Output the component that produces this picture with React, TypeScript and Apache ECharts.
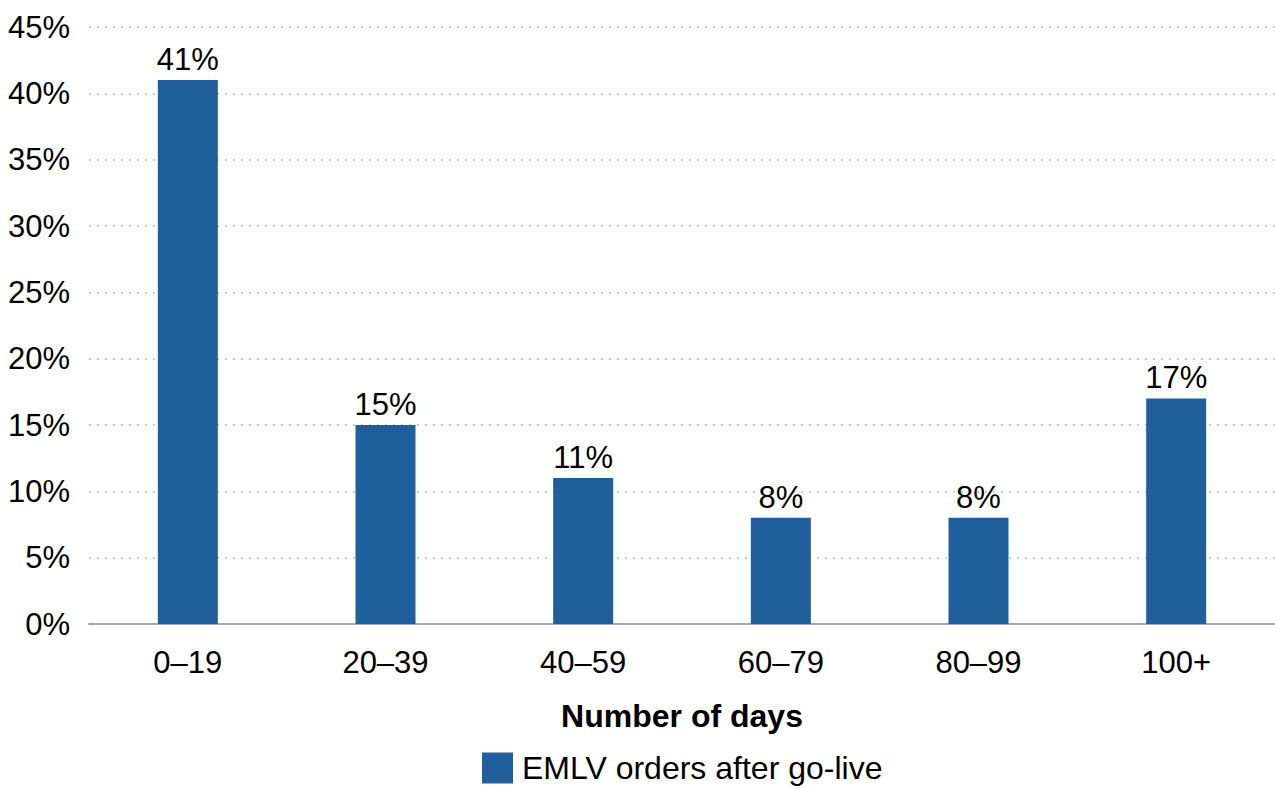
import React, { useEffect, useRef } from "react";
import * as echarts from "echarts";

// Share of EMLV orders by number of days after go-live
const dayBuckets = ["0–19", "20–39", "40–59", "60–79", "80–99", "100+"];
const orderShare = [41, 15, 11, 8, 8, 17];
const seriesName = "EMLV orders after go-live";
const axisTitle = "Number of days";

const FONT = "'Liberation Sans', Arial, Helvetica, sans-serif";
const BAR_COLOR = "#1f5f9c";
const FS = 31;

export default function App() {
  const ref = useRef<HTMLDivElement>(null);

  useEffect(() => {
    document.body.style.margin = "0";
    if (!ref.current) return;
    const chart = echarts.init(ref.current, undefined, { renderer: "svg" });
    chart.setOption({
      animation: false,
      textStyle: { fontFamily: FONT },
      grid: { left: 89, right: 0, top: 27, bottom: 165, containLabel: false },
      legend: {
        show: true,
        top: 752,
        left: 482,
        padding: 0,
        itemWidth: 31,
        itemHeight: 31,
        icon: "rect",
        textStyle: {
          fontFamily: FONT,
          fontSize: 32,
          lineHeight: 32,
          color: "#000",
          padding: [0, 0, 0, 4],
        },
        data: [seriesName],
      },
      xAxis: {
        type: "category",
        data: dayBuckets,
        name: axisTitle,
        nameLocation: "middle",
        nameGap: 76,
        nameTextStyle: {
          fontFamily: FONT,
          fontSize: 32,
          fontWeight: "bold",
          color: "#000",
        },
        axisLine: { show: true, lineStyle: { color: "#a3a7bb", width: 2 } },
        axisTick: { show: false },
        axisLabel: {
          fontFamily: FONT,
          fontSize: FS,
          color: "#000",
          margin: 23,
        },
      },
      yAxis: {
        type: "value",
        min: 0,
        max: 45,
        interval: 5,
        axisLine: { show: false },
        axisTick: { show: false },
        axisLabel: {
          fontFamily: FONT,
          fontSize: FS,
          color: "#000",
          margin: 19,
          formatter: (v: number) => `${v}%`,
        },
        splitLine: {
          show: true,
          lineStyle: { color: "#c9cad6", width: 2, type: [2, 6] },
        },
      },
      series: [
        {
          name: seriesName,
          type: "bar",
          data: orderShare,
          barWidth: 60,
          itemStyle: { color: BAR_COLOR },
          label: {
            show: true,
            position: "top",
            distance: 5,
            fontFamily: FONT,
            fontSize: FS,
            color: "#000",
            formatter: (p: any) => `${p.value}%`,
          },
        },
      ],
    });
    return () => chart.dispose();
  }, []);

  return <div ref={ref} style={{ width: 1275, height: 789 }} />;
}
